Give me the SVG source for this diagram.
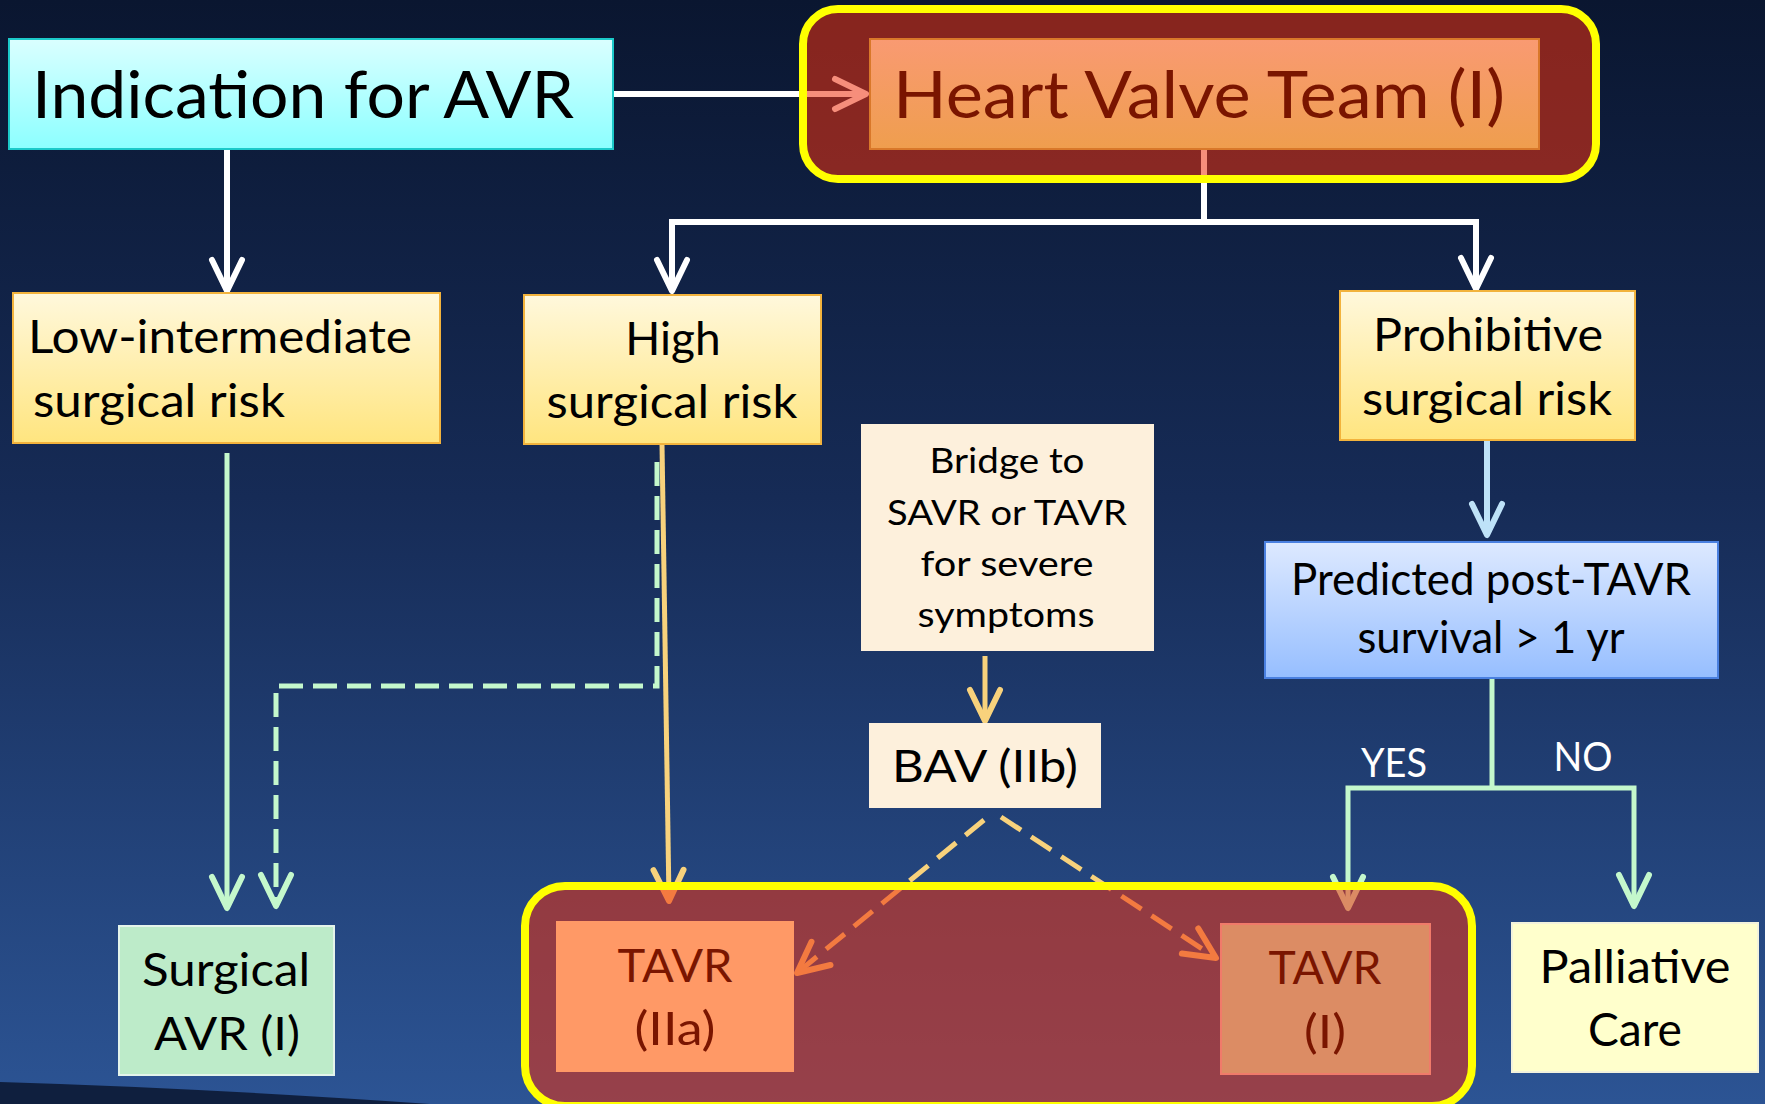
<svg xmlns="http://www.w3.org/2000/svg" width="1765" height="1104" viewBox="0 0 1765 1104">
<defs>
  <linearGradient id="bg" x1="0" y1="0" x2="0" y2="1">
    <stop offset="0" stop-color="#0A1630"/>
    <stop offset="0.45" stop-color="#162B56"/>
    <stop offset="1" stop-color="#2C5494"/>
  </linearGradient>
  <linearGradient id="gCyan" x1="0" y1="0" x2="0" y2="1">
    <stop offset="0" stop-color="#DAFFFF"/>
    <stop offset="1" stop-color="#8CFFFF"/>
  </linearGradient>
  <linearGradient id="gYellow" x1="0" y1="0" x2="0" y2="1">
    <stop offset="0" stop-color="#FFF8DC"/>
    <stop offset="1" stop-color="#FFE57F"/>
  </linearGradient>
  <linearGradient id="gOrange" x1="0" y1="0" x2="0" y2="1">
    <stop offset="0" stop-color="#F99A72"/>
    <stop offset="1" stop-color="#EF9E4E"/>
  </linearGradient>
  <linearGradient id="gBlue" x1="0" y1="0" x2="0" y2="1">
    <stop offset="0" stop-color="#DDE9FF"/>
    <stop offset="1" stop-color="#96BEFF"/>
  </linearGradient>
  <marker id="aWhite" markerUnits="userSpaceOnUse" orient="auto" refX="0" refY="0" markerWidth="80" markerHeight="80" viewBox="-40 -40 80 80" overflow="visible">
    <path d="M-31,-15 L0,0 L-31,15" fill="none" stroke="#FFFFFF" stroke-width="6" stroke-linecap="round" stroke-linejoin="round"/>
  </marker>
  <marker id="aGreen" markerUnits="userSpaceOnUse" orient="auto" refX="0" refY="0" markerWidth="80" markerHeight="80" viewBox="-40 -40 80 80" overflow="visible">
    <path d="M-31,-15 L0,0 L-31,15" fill="none" stroke="#C4F8CC" stroke-width="6" stroke-linecap="round" stroke-linejoin="round"/>
  </marker>
  <marker id="aBlue" markerUnits="userSpaceOnUse" orient="auto" refX="0" refY="0" markerWidth="80" markerHeight="80" viewBox="-40 -40 80 80" overflow="visible">
    <path d="M-31,-15 L0,0 L-31,15" fill="none" stroke="#BEE2F8" stroke-width="6" stroke-linecap="round" stroke-linejoin="round"/>
  </marker>
  <marker id="aGold" markerUnits="userSpaceOnUse" orient="auto" refX="0" refY="0" markerWidth="80" markerHeight="80" viewBox="-40 -40 80 80" overflow="visible">
    <path d="M-31,-15 L0,0 L-31,15" fill="none" stroke="#F8D27C" stroke-width="6" stroke-linecap="round" stroke-linejoin="round"/>
  </marker>
</defs>
<style>
  text { font-family: Lato, "Open Sans", "Liberation Sans", sans-serif; fill: #000; }
  .t46 { font-size: 46px; }
  .t34 { font-size: 34px; }
  .red { fill: #7A1500; }
  .wht { fill: #FFFFFF; font-size: 40px; }
  .box { stroke-width: 2; }
  .yel { fill: url(#gYellow); stroke: #F2B33D; }
  .cream { fill: #FDF0DC; }
  .line { fill: none; stroke-linejoin: miter; }
  .white { stroke: #FFFFFF; stroke-width: 6; }
  .green { stroke: #C4F8CC; stroke-width: 5; }
  .gold { stroke: #F8D27C; stroke-width: 5; }
  .container { fill: rgb(238,50,15); fill-opacity: 0.55; stroke: #FFFF00; stroke-width: 8; }
</style>

<rect x="0" y="0" width="1765" height="1104" fill="url(#bg)"/>
<path d="M0,1082 Q200,1088 430,1104 L0,1104 Z" fill="#0F1F3E"/>

<g id="connectors">
  <path class="line white" d="M613,94 H866" marker-end="url(#aWhite)"/>
  <path class="line white" d="M1204,149 V222 H672 V291" marker-end="url(#aWhite)"/>
  <path class="line white" d="M1204,222 H1476 V289" marker-end="url(#aWhite)"/>
  <path class="line white" d="M227,149 V291" marker-end="url(#aWhite)"/>
  <path class="line green" d="M227,453 V908" marker-end="url(#aGreen)"/>
  <path class="line green" d="M657,462 V686 H276 V906" stroke-width="8" stroke-dasharray="24 10" marker-end="url(#aGreen)"/>
  <path class="line gold" d="M662,444 L669,901" marker-end="url(#aGold)"/>
  <path class="line" d="M1487,440 V535" stroke="#BEE2F8" stroke-width="6" marker-end="url(#aBlue)"/>
  <path class="line gold" d="M985,656 V721" stroke-width="6" marker-end="url(#aGold)"/>
  <path class="line green" d="M1492,678 V788" stroke-width="6"/>
  <path class="line green" d="M1492,788 H1348 V908" stroke-width="6" marker-end="url(#aGreen)"/>
  <path class="line green" d="M1492,788 H1634 V906" stroke-width="6" marker-end="url(#aGreen)"/>
  <path class="line gold" d="M984,820 L797,973" stroke-width="8" stroke-dasharray="24 12" marker-end="url(#aGold)"/>
  <path class="line gold" d="M1001,817 L1216,958" stroke-width="8" stroke-dasharray="24 12" marker-end="url(#aGold)"/>
  <text class="wht" x="1394" y="777" text-anchor="middle" textLength="66" lengthAdjust="spacingAndGlyphs">YES</text>
  <text class="wht" x="1583" y="771" text-anchor="middle" textLength="59" lengthAdjust="spacingAndGlyphs">NO</text>
</g>

<g id="hvt-container">
  <rect class="container" x="803" y="9" width="793" height="170" rx="35"/>
</g>
<g id="tavr-container">
  <rect class="container" x="525" y="886" width="947" height="220" rx="40"/>
</g>

<g id="indication">
  <rect x="9" y="39" width="604" height="110" fill="url(#gCyan)" stroke="#1CC9C9" stroke-width="2"/>
  <text x="32" y="118" style="font-size:66px" textLength="542" lengthAdjust="spacingAndGlyphs">Indication for AVR</text>
</g>

<g id="heart-valve-team">
  <rect x="870" y="39" width="669" height="110" fill="url(#gOrange)" stroke="#D9782A" stroke-width="2"/>
  <text class="red" x="893" y="118" style="font-size:65px" textLength="612" lengthAdjust="spacingAndGlyphs">Heart Valve Team (I)</text>
</g>

<g id="low-intermediate">
  <rect class="box yel" x="13" y="293" width="427" height="150"/>
  <text class="t46" x="28" y="353" textLength="384" lengthAdjust="spacingAndGlyphs">Low-intermediate</text>
  <text class="t46" x="33" y="417" textLength="252" lengthAdjust="spacingAndGlyphs">surgical risk</text>
</g>

<g id="high-risk">
  <rect class="box yel" x="524" y="295" width="297" height="149"/>
  <text class="t46" x="673" y="355" text-anchor="middle">High</text>
  <text class="t46" x="672" y="418" text-anchor="middle" textLength="251" lengthAdjust="spacingAndGlyphs">surgical risk</text>
</g>

<g id="prohibitive">
  <rect class="box yel" x="1340" y="291" width="295" height="149"/>
  <text class="t46" x="1488" y="351" text-anchor="middle" textLength="230" lengthAdjust="spacingAndGlyphs">Prohibitive</text>
  <text class="t46" x="1487" y="415" text-anchor="middle" textLength="250" lengthAdjust="spacingAndGlyphs">surgical risk</text>
</g>

<g id="bridge">
  <rect class="cream" x="861" y="424" width="293" height="227"/>
  <text class="t34" x="1007" y="473" text-anchor="middle" textLength="155" lengthAdjust="spacingAndGlyphs">Bridge to</text>
  <text class="t34" x="1007" y="525" text-anchor="middle" textLength="240" lengthAdjust="spacingAndGlyphs">SAVR or TAVR</text>
  <text class="t34" x="1007" y="576" text-anchor="middle" textLength="173" lengthAdjust="spacingAndGlyphs">for severe</text>
  <text class="t34" x="1006" y="627" text-anchor="middle" textLength="177" lengthAdjust="spacingAndGlyphs">symptoms</text>
</g>

<g id="predicted">
  <rect x="1265" y="542" width="453" height="136" fill="url(#gBlue)" stroke="#4A80E0" stroke-width="2"/>
  <text class="t46" x="1491" y="595" text-anchor="middle" style="font-size:44px" textLength="400" lengthAdjust="spacingAndGlyphs">Predicted post-TAVR</text>
  <text class="t46" x="1491" y="653" text-anchor="middle" style="font-size:44px" textLength="267" lengthAdjust="spacingAndGlyphs">survival &gt; 1 yr</text>
</g>

<g id="bav">
  <rect class="cream" x="869" y="723" width="232" height="85"/>
  <text class="t46" x="985" y="782" text-anchor="middle" style="font-size:45px" textLength="186" lengthAdjust="spacingAndGlyphs">BAV (IIb)</text>
</g>

<g id="surgical-avr">
  <rect x="119" y="926" width="215" height="149" fill="#BDEBC9" stroke="#E4F4EA" stroke-width="2"/>
  <text class="t46" x="226" y="986" text-anchor="middle" textLength="168" lengthAdjust="spacingAndGlyphs">Surgical</text>
  <text class="t46" x="227" y="1050" text-anchor="middle" textLength="146" lengthAdjust="spacingAndGlyphs">AVR (I)</text>
</g>

<g id="tavr-iia">
  <rect x="556" y="921" width="238" height="151" fill="#FF9966"/>
  <text class="t46 red" x="675" y="982" text-anchor="middle" textLength="115" lengthAdjust="spacingAndGlyphs">TAVR</text>
  <text class="t46 red" x="675" y="1045" text-anchor="middle" textLength="81" lengthAdjust="spacingAndGlyphs">(IIa)</text>
</g>

<g id="tavr-i">
  <rect x="1221" y="924" width="209" height="150" fill="#DC8C64" stroke="#F07A6A" stroke-width="2"/>
  <text class="t46 red" x="1325" y="984" text-anchor="middle" textLength="113" lengthAdjust="spacingAndGlyphs">TAVR</text>
  <text class="t46 red" x="1325" y="1048" text-anchor="middle" textLength="42" lengthAdjust="spacingAndGlyphs">(I)</text>
</g>

<g id="palliative">
  <rect x="1512" y="923" width="246" height="149" fill="#FFFFCC" stroke="#F2F2DC" stroke-width="2"/>
  <text class="t46" x="1635" y="983" text-anchor="middle" textLength="191" lengthAdjust="spacingAndGlyphs">Palliative</text>
  <text class="t46" x="1635" y="1046" text-anchor="middle" textLength="94" lengthAdjust="spacingAndGlyphs">Care</text>
</g>
</svg>
